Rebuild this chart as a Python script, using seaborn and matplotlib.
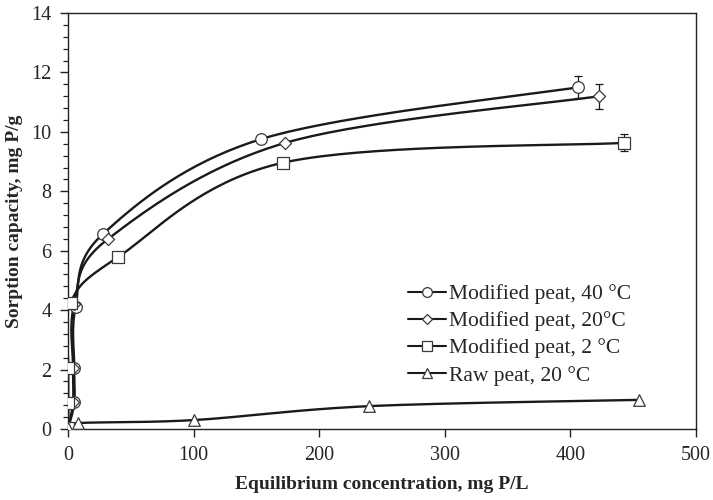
import numpy as np
import pandas as pd
import matplotlib
matplotlib.use("Agg")
import matplotlib.pyplot as plt
import seaborn as sns
from matplotlib.lines import Line2D
from matplotlib.ticker import MultipleLocator

# ---------------- data ----------------
series_names = ["Modified peat, 40 °C", "Modified peat, 20°C",
                "Modified peat, 2 °C", "Raw peat, 20 °C"]

x_mod40 = [0.3, 5, 5, 6, 28, 154, 406]
y_mod40 = [0.05, 0.9, 2.05, 4.1, 6.57, 9.76, 11.5]
err_mod40 = [0, 0, 0, 0, 0, 0, 0.37]

x_mod20 = [0.3, 4, 4, 5, 32, 173, 423]
y_mod20 = [0.05, 0.9, 2.05, 4.2, 6.4, 9.63, 11.2]
err_mod20 = [0, 0, 0, 0, 0, 0, 0.42]

x_mod2 = [0.3, 0.3, 0.3, 2, 40, 171, 443]
y_mod2 = [0.05, 0.87, 2.05, 4.24, 5.79, 8.96, 9.63]
err_mod2 = [0, 0, 0, 0, 0, 0, 0.29]

x_raw = [0.3, 8, 100, 240, 455]
y_raw = [0.05, 0.2, 0.3, 0.77, 0.98]

x_ticks = [0, 100, 200, 300, 400, 500]
y_ticks = [0, 2, 4, 6, 8, 10, 12, 14]

series_x = [x_mod40, x_mod20, x_mod2, x_raw]
series_y = [y_mod40, y_mod20, y_mod2, y_raw]
series_err = [err_mod40, err_mod20, err_mod2, None]
markers = ["o", "D", "s", "^"]
msizes = [70, 38, 72, 70]

XMAX, YMAX = 500, 14
SX, SY = 628.0, 416.0  # pixel-proportional scaling for smoothing


def smooth_path(xs, ys, n=40):
    """Excel-style smoothed line (Catmull-Rom Bezier) through the data points."""
    P = np.column_stack([np.asarray(xs, float) / XMAX * SX,
                         np.asarray(ys, float) / YMAX * SY])
    P = np.vstack([P[0], P, P[-1]])
    out = []
    t = np.linspace(0, 1, n)[:, None]
    for i in range(1, len(P) - 2):
        p0, p1, p2, p3 = P[i - 1], P[i], P[i + 1], P[i + 2]
        c1 = p1 + (p2 - p0) / 6.0
        c2 = p2 - (p3 - p1) / 6.0
        seg = ((1 - t) ** 3) * p1 + 3 * ((1 - t) ** 2) * t * c1 + \
              3 * (1 - t) * t ** 2 * c2 + t ** 3 * p2
        out.append(seg if i == 1 else seg[1:])
    out = np.vstack(out)
    return out[:, 0] / SX * XMAX, out[:, 1] / SY * YMAX


# ---------------- figure ----------------
sns.set_theme(style="ticks")
plt.rcParams["font.family"] = ["Liberation Serif", "DejaVu Serif"]
plt.rcParams["mathtext.fontset"] = "dejavuserif"

fig = plt.figure(figsize=(7.13, 5.0), dpi=100)
ax = fig.add_axes([68 / 713, 1 - 429 / 500, 628 / 713, 416 / 500])

line_rows = []
for name, xs, ys in zip(series_names, series_x, series_y):
    sx_, sy_ = smooth_path(xs, ys)
    line_rows.append(pd.DataFrame({"x": sx_, "y": sy_, "series": name}))
line_df = pd.concat(line_rows, ignore_index=True)

sns.lineplot(data=line_df, x="x", y="y", hue="series", sort=False,
             estimator=None, palette=["#1a1a1a"] * 4, linewidth=1.7,
             legend=False, ax=ax, zorder=2)

for name, xs, ys, err, mk, ms in zip(series_names, series_x, series_y,
                                     series_err, markers, msizes):
    if err is not None:
        xe = [x for x, e in zip(xs, err) if e > 0]
        ye = [y for y, e in zip(ys, err) if e > 0]
        ee = [e for e in err if e > 0]
        ax.errorbar(xe, ye, yerr=ee, fmt="none", ecolor="#1a1a1a",
                    elinewidth=0.9, capsize=3.2, capthick=0.9, zorder=3)
    df = pd.DataFrame({"x": xs, "y": ys})
    sns.scatterplot(data=df, x="x", y="y", marker=mk, s=ms, color="white",
                    edgecolor="#3a3a3a", linewidth=0.9, ax=ax, zorder=4,
                    legend=False)

ax.set_xlim(0, XMAX)
ax.set_ylim(0, YMAX)
ax.set_xticks(x_ticks)
ax.set_yticks(y_ticks)
ax.yaxis.set_minor_locator(MultipleLocator(0.4))
ax.tick_params(axis="both", which="major", direction="out", length=6,
               width=1, color="#222222", labelsize=14.5, pad=6)
ax.tick_params(axis="y", which="minor", direction="out", length=3.5,
               width=0.9, color="#222222")
for sp in ax.spines.values():
    sp.set_visible(True)
    sp.set_color("#222222")
    sp.set_linewidth(1.0)

ax.set_xlabel("Equilibrium concentration, mg P/L", fontsize=14,
              fontweight="bold", labelpad=8)
ax.set_ylabel("Sorption capacity, mg P/g", fontsize=14,
              fontweight="bold", labelpad=6)

handles = []
for name, mk in zip(series_names, markers):
    handles.append(Line2D([], [], color="#1a1a1a", lw=1.5, marker=mk,
                          markerfacecolor="white", markeredgecolor="#3a3a3a",
                          markeredgewidth=0.9,
                          markersize=7 if mk != "D" else 5.5, label=name))
leg = ax.legend(handles=handles, loc="upper left",
                bbox_to_anchor=((408 - 68) / 628, (429 - 284) / 416),
                frameon=False, fontsize=15.5, handlelength=1.75,
                handletextpad=0.15, labelspacing=0.33, borderpad=0,
                borderaxespad=0)

fig.savefig("out.png", dpi=100)
